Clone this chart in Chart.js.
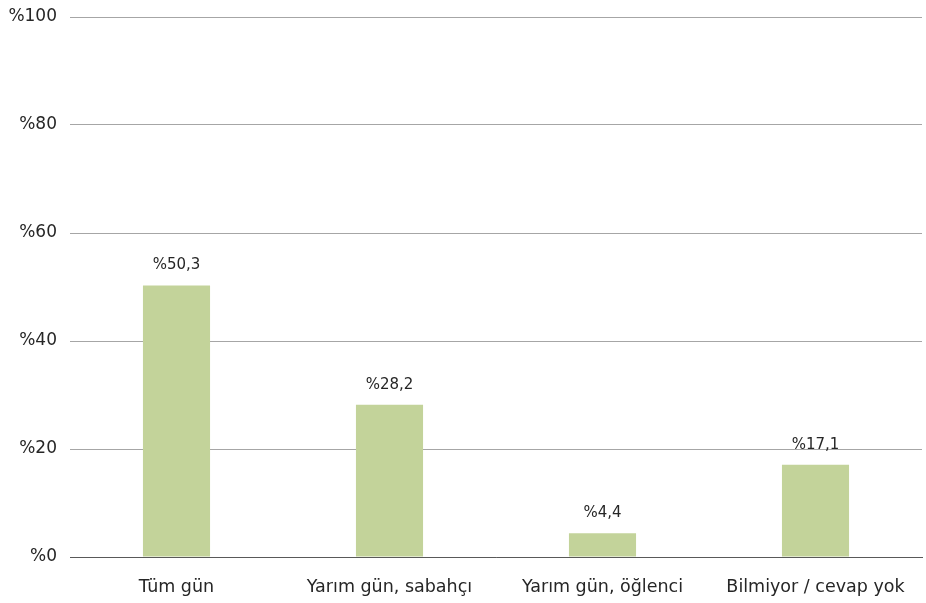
<!DOCTYPE html>
<html>
<head>
<meta charset="utf-8">
<script src="https://cdn.jsdelivr.net/npm/chart.js@4"></script>
<style>
  html, body { margin: 0; padding: 0; background: #fff; }
  #wrap { width: 926px; height: 603px; }
</style>
</head>
<body>
<div id="wrap"><canvas id="chart" width="926" height="603"></canvas></div>
<script>
const categories = ["Tüm gün", "Yarım gün, sabahçı", "Yarım gün, öğlenci", "Bilmiyor / cevap yok"];
const shares = [50.3, 28.2, 4.4, 17.1];
const yTicks = [0, 20, 40, 60, 80, 100];

const fontFamily = "'DejaVu Sans', sans-serif";

// writes the "%xx,x" label above each bar
const barLabels = {
  id: 'barLabels',
  afterDatasetsDraw(chart) {
    const ctx = chart.ctx;
    const meta = chart.getDatasetMeta(0);
    ctx.save();
    ctx.font = "15px " + fontFamily;
    ctx.fillStyle = "#262626";
    ctx.textAlign = "center";
    ctx.textBaseline = "middle";
    meta.data.forEach((bar, i) => {
      const txt = "%" + shares[i].toFixed(1).replace(".", ",");
      ctx.fillText(txt, bar.x, bar.y - 20);
    });
    ctx.restore();
  }
};

new Chart(document.getElementById('chart'), {
  type: 'bar',
  data: {
    labels: categories,
    datasets: [{
      data: shares,
      backgroundColor: "#c3d39a",
      borderWidth: 0,
      barPercentage: 0.315,
      categoryPercentage: 1.0
    }]
  },
  options: {
    responsive: false,
    animation: false,
    layout: { padding: { top: 17, right: 4, left: 0, bottom: 0 } },
    plugins: {
      legend: { display: false },
      tooltip: { enabled: false }
    },
    scales: {
      x: {
        grid: { display: false, drawTicks: false },
        border: { color: "#595959", width: 1 },
        ticks: {
          color: "#262626",
          font: { size: 17.5, family: fontFamily },
          padding: 20,
          maxRotation: 0
        },
        afterFit(scale) {
          scale.height = 46;
          scale.paddingLeft = 0;
          scale.paddingRight = 0;
        }
      },
      y: {
        min: 0,
        max: 100,
        afterBuildTicks(scale) { scale.ticks = yTicks.map(v => ({ value: v })); },
        grid: { color: "#a6a6a6", drawTicks: false },
        border: { display: false },
        ticks: {
          color: "#262626",
          font: { size: 17, family: fontFamily },
          padding: 13,
          callback: v => "%" + v
        },
        afterFit(scale) {
          scale.width = 70;
          scale.paddingTop = 0;
          scale.paddingBottom = 0;
        }
      }
    }
  },
  plugins: [barLabels]
});
</script>
</body>
</html>
